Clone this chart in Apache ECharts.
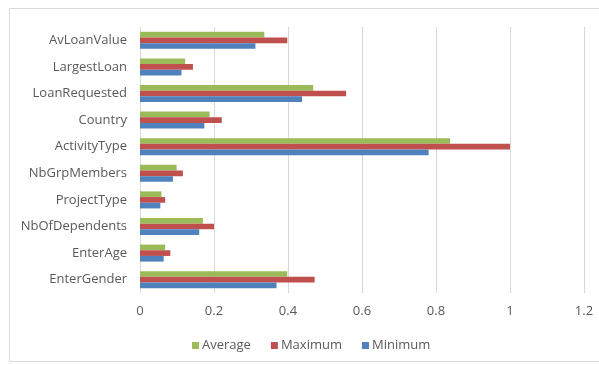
<!DOCTYPE html>
<html>
<head>
<meta charset="utf-8">
<script src="https://cdn.jsdelivr.net/npm/echarts@6/dist/echarts.min.js"></script>
<style>
  html, body { margin: 0; padding: 0; background: #fff; }
  #chart { width: 599px; height: 365px; }
</style>
</head>
<body>
<div id="chart"></div>
<script>
// Variables, listed bottom to top as drawn on the category axis
const categories = ['EnterGender', 'EnterAge', 'NbOfDependents', 'ProjectType', 'NbGrpMembers',
  'ActivityType', 'Country', 'LoanRequested', 'LargestLoan', 'AvLoanValue'];

const averageValues = [0.398, 0.068, 0.170, 0.058, 0.099, 0.838, 0.188, 0.468, 0.122, 0.336];
const maximumValues = [0.472, 0.082, 0.200, 0.068, 0.116, 1.000, 0.221, 0.557, 0.143, 0.398];
const minimumValues = [0.369, 0.064, 0.160, 0.055, 0.089, 0.780, 0.174, 0.438, 0.112, 0.312];

const xTicks = { min: 0, max: 1.2, interval: 0.2 };

const textColor = '#595959';
const fontFamily = '"Open Sans", "Liberation Sans", sans-serif';

const chart = echarts.init(document.getElementById('chart'), null, { renderer: 'canvas' });

chart.setOption({
  animation: false,
  backgroundColor: '#ffffff',
  graphic: [{
    type: 'rect',
    shape: { x: 9.5, y: 8.5, width: 620, height: 353 },
    style: { fill: 'none', stroke: '#d9d9d9', lineWidth: 1 },
    silent: true
  }],
  grid: { left: 140, right: 15, top: 27, bottom: 72, containLabel: false },
  legend: {
    bottom: 8,
    left: 187,
    icon: 'rect',
    itemWidth: 7,
    itemHeight: 7,
    itemGap: 20,
    textStyle: { color: textColor, fontSize: 13, fontFamily: fontFamily, padding: [0, 0, 0, -2] },
    data: ['Average', 'Maximum', 'Minimum']
  },
  xAxis: {
    type: 'value',
    min: xTicks.min,
    max: xTicks.max,
    interval: xTicks.interval,
    axisLine: { show: false },
    axisTick: { show: false },
    splitLine: { show: true, lineStyle: { color: '#d9d9d9', width: 1 } },
    axisLabel: {
      color: textColor, fontSize: 13, fontFamily: fontFamily, margin: 12,
      formatter: v => String(Math.round(v * 10) / 10)
    }
  },
  yAxis: {
    type: 'category',
    data: categories,
    axisLine: { show: true, lineStyle: { color: '#d9d9d9' } },
    axisTick: { show: false },
    axisLabel: { color: textColor, fontSize: 13, fontFamily: fontFamily, margin: 13 }
  },
  series: [
    { name: 'Average', type: 'bar', data: averageValues, itemStyle: { color: '#9BBB59' }, barGap: '0%', barCategoryGap: '36%' },
    { name: 'Maximum', type: 'bar', data: maximumValues, itemStyle: { color: '#C0504D' }, barGap: '0%', barCategoryGap: '36%' },
    { name: 'Minimum', type: 'bar', data: minimumValues, itemStyle: { color: '#4F81BD' }, barGap: '0%', barCategoryGap: '36%' }
  ]
});
</script>
</body>
</html>
